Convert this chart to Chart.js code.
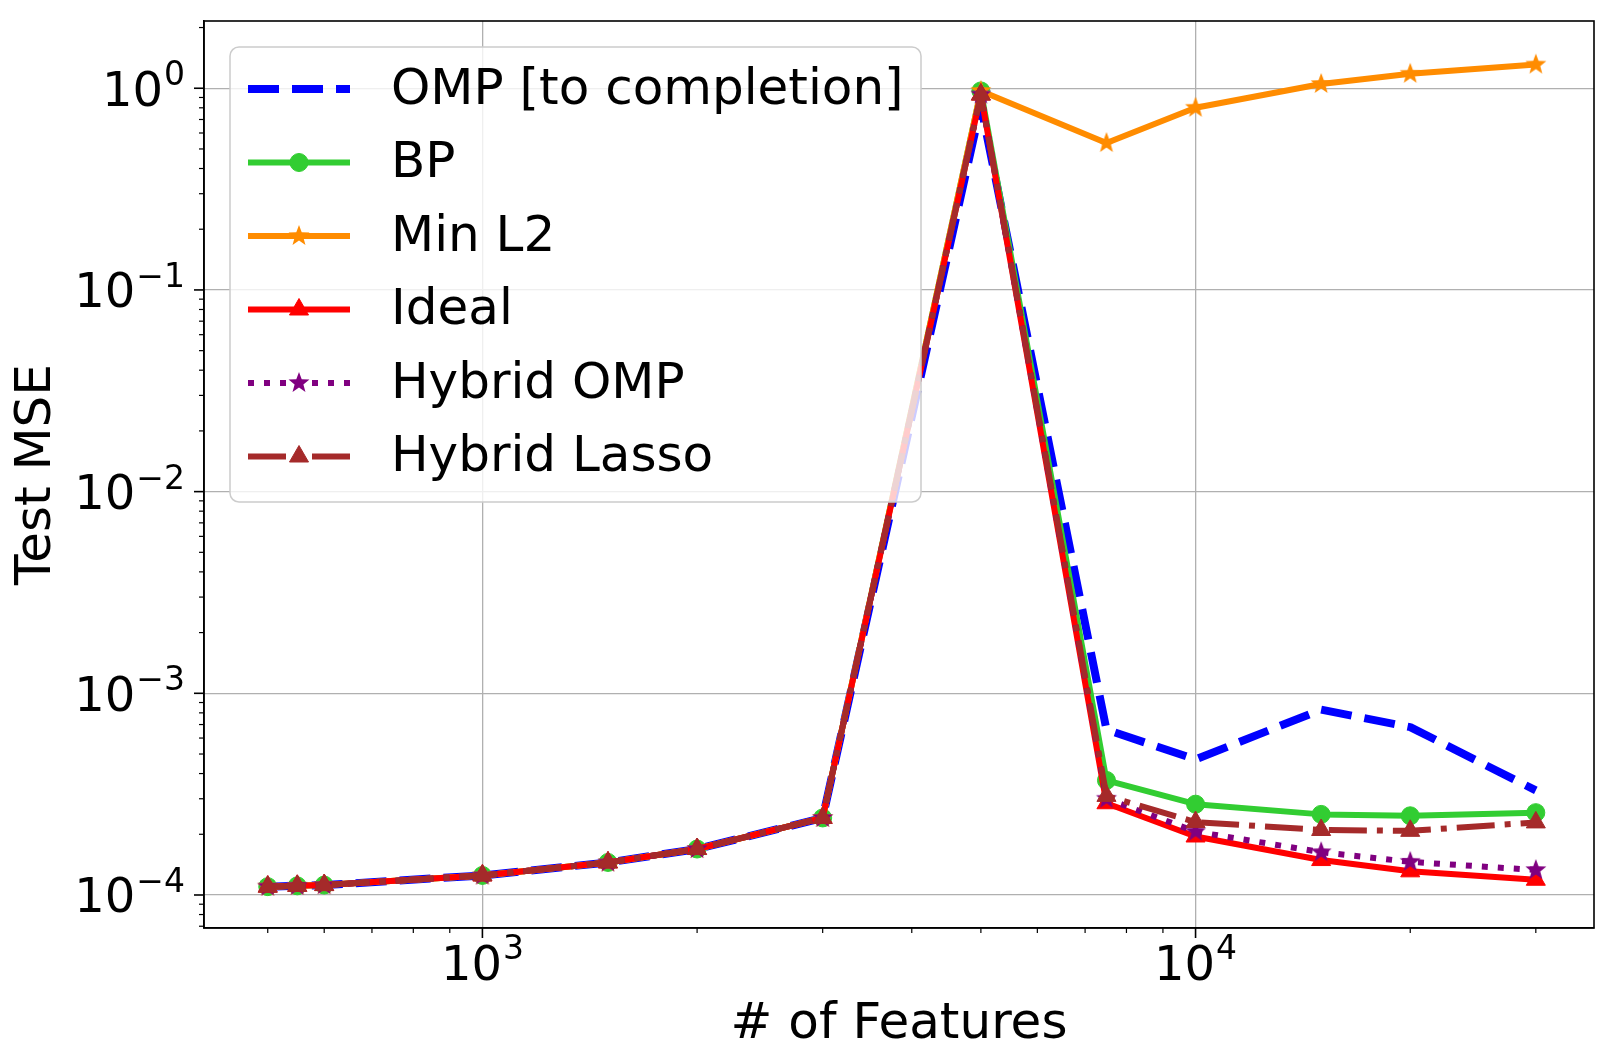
<!DOCTYPE html>
<html>
<head>
<meta charset="utf-8">
<script src="https://cdn.jsdelivr.net/npm/chart.js@4.4.1/dist/chart.umd.min.js"></script>
<style>
  html, body { margin: 0; padding: 0; background: #fff; }
  canvas { display: block; }
</style>
</head>
<body>
<canvas id="mseChart" width="1623" height="1064"></canvas>
<script>
// number of features on the x axis
const features = [500, 550, 600, 1000, 1500, 2000, 3000, 5000, 7500, 10000, 15000, 20000, 30000];

// test MSE for each method
const ompValues = [1.10e-4, 1.11e-4, 1.12e-4, 1.25e-4, 1.45e-4, 1.69e-4, 2.41e-4, 0.82, 6.6e-4, 4.7e-4, 8.3e-4, 6.8e-4, 3.3e-4];
const bpValues = [1.10e-4, 1.11e-4, 1.12e-4, 1.25e-4, 1.45e-4, 1.69e-4, 2.41e-4, 0.97, 3.7e-4, 2.82e-4, 2.51e-4, 2.47e-4, 2.56e-4];
const minL2Values = [1.10e-4, 1.11e-4, 1.12e-4, 1.25e-4, 1.45e-4, 1.69e-4, 2.41e-4, 0.97, 0.535, 0.80, 1.05, 1.18, 1.31];
const idealValues = [1.10e-4, 1.11e-4, 1.12e-4, 1.25e-4, 1.45e-4, 1.69e-4, 2.41e-4, 0.93, 2.85e-4, 1.95e-4, 1.49e-4, 1.31e-4, 1.19e-4];
const hybridOmpValues = [1.10e-4, 1.11e-4, 1.12e-4, 1.25e-4, 1.45e-4, 1.69e-4, 2.41e-4, 0.93, 3.0e-4, 2.06e-4, 1.63e-4, 1.46e-4, 1.33e-4];
const hybridLassoValues = [1.10e-4, 1.11e-4, 1.12e-4, 1.25e-4, 1.45e-4, 1.69e-4, 2.41e-4, 0.93, 3.1e-4, 2.3e-4, 2.1e-4, 2.08e-4, 2.29e-4];

const seriesLabels = ["OMP [to completion]", "BP", "Min L2", "Ideal", "Hybrid OMP", "Hybrid Lasso"];

const FONT = "'DejaVu Sans', sans-serif";

function isDecade(v) {
  const l = Math.log10(v);
  return Math.abs(l - Math.round(l)) < 1e-6;
}
function isWhole(v) {
  const s = v / Math.pow(10, Math.floor(Math.log10(v) + 1e-9));
  return Math.abs(s - Math.round(s)) < 1e-6;
}
function expText(v) {
  return String(Math.round(Math.log10(v))).replace("-", "\u2212");
}

// filled five point star used as marker
function makeStar(color, r) {
  const c = document.createElement("canvas");
  const size = Math.ceil(r * 2 + 4);
  c.width = size; c.height = size;
  const g = c.getContext("2d");
  g.fillStyle = color;
  g.beginPath();
  for (let i = 0; i < 10; i++) {
    const rr = i % 2 === 0 ? r : r * 0.42;
    const a = -Math.PI / 2 + i * Math.PI / 5;
    const px = size / 2 + Math.cos(a) * rr, py = size / 2 + Math.sin(a) * rr;
    if (i === 0) g.moveTo(px, py); else g.lineTo(px, py);
  }
  g.closePath();
  g.fill();
  return c;
}

const orangeStar = makeStar("#ff8c00", 11);
const purpleStar = makeStar("#800080", 11);

function pts(arr) {
  return features.map((x, i) => ({ x: x, y: arr[i] }));
}

const datasets = [
  { label: seriesLabels[0], data: pts(ompValues), borderColor: "#0000ff", backgroundColor: "#0000ff",
    borderWidth: 8, borderDash: [31, 13], pointRadius: 0, order: 5 },
  { label: seriesLabels[1], data: pts(bpValues), borderColor: "#32cd32", backgroundColor: "#32cd32",
    borderWidth: 6, pointStyle: "circle", pointRadius: 9, order: 4 },
  { label: seriesLabels[2], data: pts(minL2Values), borderColor: "#ff8c00", backgroundColor: "#ff8c00",
    borderWidth: 6, pointStyle: orangeStar, pointRadius: 11, order: 3 },
  { label: seriesLabels[3], data: pts(idealValues), borderColor: "#ff0000", backgroundColor: "#ff0000",
    borderWidth: 6, pointStyle: "triangle", pointRadius: 11, order: 2 },
  { label: seriesLabels[4], data: pts(hybridOmpValues), borderColor: "#800080", backgroundColor: "#800080",
    borderWidth: 6, borderDash: [6, 10], pointStyle: purpleStar, pointRadius: 11, order: 1 },
  { label: seriesLabels[5], data: pts(hybridLassoValues), borderColor: "#a52a2a", backgroundColor: "#a52a2a",
    borderWidth: 6, borderDash: [38, 10, 6, 10], pointStyle: "triangle", pointRadius: 11, order: 0 }
];
datasets.forEach(d => {
  d.fill = false; d.tension = 0; d.pointBorderWidth = 1; d.pointBorderColor = d.borderColor;
  d.borderCapStyle = "butt"; d.borderJoinStyle = "round";
});

// "10" with a raised exponent, anchored at its right end
function drawPow(ctx, v, rightX, midY) {
  ctx.font = "33px " + FONT;
  const e = expText(v);
  const ew = ctx.measureText(e).width;
  ctx.textAlign = "right";
  ctx.textBaseline = "alphabetic";
  ctx.fillText(e, rightX, midY - 3);
  ctx.font = "48px " + FONT;
  ctx.fillText("10", rightX - ew - 1, midY + 17.5);
  return ew;
}

const frameAndLegend = {
  id: "frameAndLegend",
  afterDraw(chart) {
    const ctx = chart.ctx;
    const a = chart.chartArea;
    const xs = chart.scales.x, ys = chart.scales.y;
    ctx.save();
    // tick marks (major longer than minor) and labels
    ctx.strokeStyle = "#000";
    ctx.fillStyle = "#000";
    xs.ticks.forEach(t => {
      if (!isWhole(t.value)) return;
      const px = xs.getPixelForValue(t.value);
      const major = isDecade(t.value);
      ctx.lineWidth = major ? 1.6 : 1.2;
      ctx.beginPath(); ctx.moveTo(px, a.bottom); ctx.lineTo(px, a.bottom + (major ? 10 : 5)); ctx.stroke();
      if (major) {
        ctx.font = "33px " + FONT;
        const ew = ctx.measureText(expText(t.value)).width;
        ctx.font = "48px " + FONT;
        const tw = ctx.measureText("10").width + 1 + ew;
        drawPow(ctx, t.value, px + tw / 2, a.bottom + 34);
      }
    });
    ys.ticks.forEach(t => {
      if (!isWhole(t.value)) return;
      const py = ys.getPixelForValue(t.value);
      const major = isDecade(t.value);
      ctx.lineWidth = major ? 1.6 : 1.2;
      ctx.beginPath(); ctx.moveTo(a.left, py); ctx.lineTo(a.left - (major ? 10 : 5), py); ctx.stroke();
      if (major) drawPow(ctx, t.value, a.left - 19, py);
    });
    // plot frame
    ctx.lineWidth = 1.6;
    ctx.strokeRect(a.left, a.top, a.right - a.left, a.bottom - a.top);

    // legend
    const lx = 230, ly = 47, lw = 691, lh = 455;
    ctx.beginPath();
    ctx.roundRect(lx, ly, lw, lh, 9);
    ctx.fillStyle = "rgba(255,255,255,0.8)";
    ctx.fill();
    ctx.strokeStyle = "#cccccc";
    ctx.lineWidth = 1.5;
    ctx.stroke();

    chart.data.datasets.forEach((d, i) => {
      const y = 89 + i * 73.5;
      ctx.save();
      ctx.strokeStyle = d.borderColor;
      ctx.lineWidth = d.borderWidth;
      ctx.lineCap = "butt";
      ctx.setLineDash(d.borderDash || []);
      ctx.beginPath(); ctx.moveTo(248, y); ctx.lineTo(350, y); ctx.stroke();
      ctx.setLineDash([]);
      if (d.pointRadius > 0) {
        ctx.fillStyle = d.backgroundColor;
        ctx.strokeStyle = d.borderColor;
        ctx.lineWidth = 1;
        Chart.helpers.drawPoint(ctx, { pointStyle: d.pointStyle, radius: d.pointRadius, rotation: 0, borderWidth: 1 }, 299, y);
      }
      ctx.restore();
      ctx.fillStyle = "#000";
      ctx.font = "50px " + FONT;
      ctx.textBaseline = "middle";
      ctx.textAlign = "left";
      ctx.fillText(d.label, 391, y + 2);
    });
    ctx.restore();
  }
};

new Chart(document.getElementById("mseChart"), {
  type: "line",
  data: { datasets: datasets },
  options: {
    responsive: false,
    animation: false,
    layout: { padding: { top: 21, right: 29, left: 0, bottom: 0 } },
    plugins: { legend: { display: false }, tooltip: { enabled: false } },
    scales: {
      x: {
        type: "logarithmic",
        min: 407, max: 36200,
        afterFit(s) { s.height = 136; s.paddingLeft = 0; s.paddingRight = 0; },
        grid: {
          color: c => (c.tick && isDecade(c.tick.value)) ? "#b0b0b0" : "rgba(0,0,0,0)",
          lineWidth: 1.3, drawTicks: false
        },
        border: { display: true, color: "#000", width: 1.6 },
        ticks: { display: false, autoSkip: false },
        title: { display: true, text: "# of Features", color: "#000",
          font: { family: FONT, size: 50 }, padding: { top: 0, bottom: 9 } }
      },
      y: {
        type: "logarithmic",
        min: 6.86e-5, max: 2.155,
        afterFit(s) { s.width = 204; s.paddingTop = 0; s.paddingBottom = 0; },
        grid: {
          color: c => (c.tick && isDecade(c.tick.value)) ? "#b0b0b0" : "rgba(0,0,0,0)",
          lineWidth: 1.3, drawTicks: false
        },
        border: { display: true, color: "#000", width: 1.6 },
        ticks: { display: false, autoSkip: false },
        title: { display: true, text: "Test MSE", color: "#000",
          font: { family: FONT, size: 50 }, padding: { top: 7, bottom: 0 } }
      }
    }
  },
  plugins: [frameAndLegend]
});
</script>
</body>
</html>
